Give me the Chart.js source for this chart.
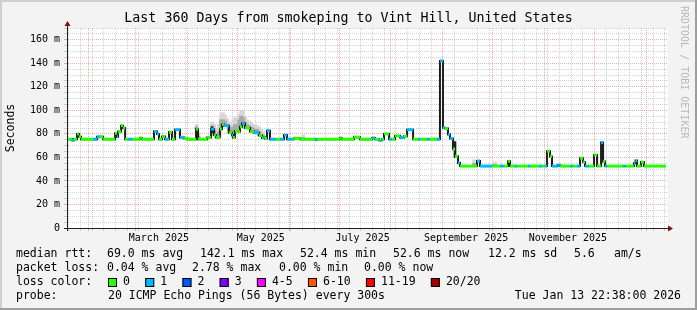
<!DOCTYPE html>
<html lang="en">
<head>
  <meta charset="UTF-8">
  <title>Last 360 Days from smokeping to Vint Hill</title>
  <script src="https://cdn.jsdelivr.net/npm/chart.js"></script>
  <style>
    html, body { margin: 0; padding: 0; background: #f3f3f3; }
    .chart-container { position: relative; width: 697px; height: 310px; }
  </style>
</head>
<body>
  <div class="chart-container"><canvas id="smokeChart"></canvas></div>

  <script>
    // median rtt steps: day offset from graph start, value in ms, lost pings (of 20)
    const stepDay = [0, 3.0, 4.2, 6.0, 7.2, 8.4, 15.6, 18.0, 19.8, 21.6, 28.8, 30.0, 30.6, 32.4, 33.6, 34.8, 36.5, 38.9,
      43.7, 44.9, 52.1, 53.9, 55.1, 56.9, 58.7, 60.5, 61.1, 62.9, 64.7, 67.7, 70.1, 71.9, 77.3, 78.5, 83.9, 86.3, 88.1,
      89.3, 91.1, 91.7, 92.8, 94.0, 97.0, 98.8, 99.4, 100.6, 102.4, 103.6, 104.8, 106.6, 109.6, 112.0, 115.0, 116.8,
      117.8, 118.6, 119.8, 121.6, 125.0, 128.0, 130.0, 131.8, 135.0, 136.0, 139.6, 148.6, 149.8, 163.5, 164.7, 171.9,
      175.5, 182.7, 184.5, 186.9, 188.7, 189.9, 192.9, 194.5, 196.5, 199.5, 201.9, 203.7, 207.3, 210.3, 211.5, 215.6,
      217.0, 221.6, 223.4, 225.2, 226.4, 228.2, 229.4, 231.2, 232.4, 234.2, 235.4, 245.6, 247.4, 254.6, 259.6, 261.8,
      264.2, 265.4, 268.4, 269.6, 276.2, 277.4, 282.7, 284.5, 286.3, 287.5, 289.3, 290.5, 294.0, 295.2, 301.3, 302.8,
      305.5, 307.3, 309.1, 310.3, 312.5, 315.7, 317.5, 319.9, 321.1, 322.3, 323.5, 333.0, 334.5, 339.6, 340.5, 341.4,
      343.8, 345.6, 358.8];
    const stepMs = [75.5, 74.5, 75.5, 80, 77.5, 75.5, 75.5, 77.5, 77.5, 75.5, 80.5, 77.5, 82, 87, 85, 75.5, 75.5, 75.5,
      76.5, 75.5, 82, 80, 75.5, 77.7, 75.5, 75.5, 81.5, 75.5, 83.5, 77, 76, 75.5, 84, 75.5, 77, 84, 79,
      77, 77.5, 84, 88, 87, 81, 79, 77, 82.5, 82, 86, 89, 85, 82, 81, 78.7, 76.6,
      77, 76, 82.6, 75.5, 75.5, 75.5, 79, 75.5, 75.5, 76.3, 75.5, 75, 75.5, 76.5, 75.5, 77.2,
      75.5, 76.5, 75.5, 74.5, 75.5, 80, 75.5, 75.5, 78.3, 77, 78, 83.5, 75.5, 75.5, 75.5, 75.5,
      75.5, 75.5, 142, 85.3, 84.5, 79.4, 76, 67.2, 61, 55.3, 52.6, 57, 52.6, 52.6, 52.6, 52.6,
      56.7, 52.6, 52.6, 52.6, 52.6, 52.6, 52.6, 52.6, 52.6, 65.3, 60.7, 52.6, 53.5, 52.6, 52.6, 52.6,
      52.6, 59.3, 56, 52.6, 52.6, 62, 52.6, 72.6, 56.6, 52.6, 52.6, 52.6, 52.6, 55, 57.3, 52.6,
      56, 52.6, 52.6];
    const stepLoss = [0, 1, 0, 0, 0, 0, 1, 1, 0, 0, 0, 1, 0, 0, 0, 0, 1, 0,
      0, 0, 1, 1, 0, 0, 1, 0, 0, 0, 1, 1, 0, 0, 0, 0, 0, 1, 0,
      0, 0, 0, 0, 1, 0, 1, 0, 0, 0, 0, 1, 0, 0, 1, 0, 0,
      1, 0, 1, 1, 0, 1, 1, 1, 0, 0, 0, 1, 0, 0, 0, 0,
      0, 1, 0, 1, 0, 0, 1, 0, 0, 1, 0, 1, 0, 1, 0, 1,
      0, 1, 1, 1, 0, 1, 1, 0, 0, 1, 0, 1, 1, 0, 1, 0,
      0, 0, 1, 0, 1, 0, 1, 0, 1, 0, 0, 1, 1, 0, 1, 0,
      1, 0, 0, 1, 0, 0, 0, 1, 0, 1, 0, 1, 0, 1, 0, 0,
      0, 0, 0];

    // smoke (spread of the 20 pings) above the median
    const smokeDay = [77.6, 78.8, 86.9, 88.1, 89.3, 91.1, 92.3, 93.5, 94.7, 95.9, 97.1, 98.3, 99.5, 100.7, 101.9,
      103.1, 104.3, 105.5, 106.7, 107.9, 109.1, 110.3, 111.5, 112.7, 113.9, 115.1, 116.3, 117.5, 141.5, 243.8, 255.5, 256.5];
    const smokeMid = [86, 78, 87, 83, 80, 82, 92, 92, 91, 88, 86, 84, 86, 88, 87,
      92, 95, 94, 90, 88, 87, 86, 85, 84, 84, 82, 80, 79, 77, 55, 54, 54];
    const smokeHi = [88, 81, 90, 88, 85, 88, 97, 98, 96, 93, 90, 89, 92, 94, 92,
      97, 100, 100, 95, 92, 91, 90, 88, 88, 87, 86, 84, 82, 79, 58, 56, 56];

    // dense smoke columns
    const darkDay = [86.9, 232.4];
    const darkLo = [81, 60];
    const darkHi = [86, 73.4];

    const monthLabels = ['March 2025', 'May 2025', 'July 2025', 'September 2025', 'November 2025'];
    const monthLabelDates = ['2025-03-15', '2025-05-15', '2025-07-15', '2025-09-15', '2025-11-15'];
    const yLabelMs = [0, 20, 40, 60, 80, 100, 120, 140, 160];

    const lossLevelLabels = ['0', '1', '2', '3', '4-5', '6-10', '11-19', '20/20'];
    const lossLevelMax = [0, 1, 2, 3, 5, 10, 19, 20];
    const lossLevelColors = ['#26ff00', '#00b8ff', '#0059ff', '#7e00ff', '#ff00ff', '#ff5500', '#ff0000', '#a10000'];

    const rttStatValues = ['69.0', '142.1', '52.4', '52.6', '12.2'];
    const rttStatNames = ['avg', 'max', 'min', 'now', 'sd'];
    const amsValue = '5.6';
    const lossStatValues = ['0.04', '2.78', '0.00', '0.00'];
    const lossStatNames = ['avg', 'max', 'min', 'now'];
    const probeText = '20 ICMP Echo Pings (56 Bytes) every 300s';
    const stampText = 'Tue Jan 13 22:38:00 2026';
    const titleText = 'Last 360 Days from smokeping to Vint Hill, United States';

    const MONO = '"DejaVu Sans Mono", monospace';
    const MINOR_GRID = 'rgba(140,140,140,0.38)';
    const MAJOR_GRID = 'rgba(224,80,80,0.45)';

    // time helpers (days since graph start)
    const t0 = new Date(2025, 0, 18, 22, 38);
    function dayOf(y, m, d) { return (new Date(y, m, d) - t0) / 86400000; }
    function dayOfStr(s) { const p = s.split('-').map(Number); return dayOf(p[0], p[1] - 1, p[2]); }

    const monthStartDays = [];
    for (let m = 1; m <= 12; m++) monthStartDays.push(dayOf(2025, m, 1));
    const mondayDays = [];
    for (let d = dayOf(2025, 0, 20); d < 360; d += 7) mondayDays.push(d);
    const labelDays = monthLabelDates.map(dayOfStr);

    const xTickKind = new Map();
    mondayDays.forEach(d => xTickKind.set(d.toFixed(3), 'week'));
    monthStartDays.forEach(d => xTickKind.set(d.toFixed(3), 'month'));
    labelDays.forEach(d => xTickKind.set(d.toFixed(3), 'label'));
    const xTickValues = [...xTickKind.keys()].map(Number).sort((a, b) => a - b);
    const kindOf = v => xTickKind.get(Number(v).toFixed(3));

    const yTickValues = [];
    for (let v = 0; v <= 170; v += 5) yTickValues.push(v);

    function lossColor(n) {
      const i = lossLevelMax.findIndex(m => n <= m);
      return lossLevelColors[i < 0 ? lossLevelColors.length - 1 : i];
    }
    function medianAt(d) {
      let v = stepMs[0];
      for (let i = 0; i < stepDay.length; i++) { if (stepDay[i] <= d) v = stepMs[i]; }
      return v;
    }

    // coloured horizontal pieces of the median, broken between steps
    const medianPieces = [];
    for (let i = 0; i < stepDay.length - 1; i++) {
      medianPieces.push({ x: stepDay[i], y: stepMs[i] });
      medianPieces.push({ x: stepDay[i + 1], y: stepMs[i] });
      medianPieces.push({ x: stepDay[i + 1], y: null });
    }

    const bgPlugin = {
      id: 'rrdBackground',
      beforeDraw(chart) {
        const c = chart.ctx, a = chart.chartArea;
        c.save();
        c.fillStyle = '#f3f3f3';
        c.fillRect(0, 0, chart.width, chart.height);
        c.fillStyle = '#cfcfcf';
        c.fillRect(0, 0, chart.width, 2);
        c.fillRect(0, 0, 2, chart.height);
        c.fillStyle = '#9e9e9e';
        c.fillRect(0, chart.height - 2, chart.width, 2);
        c.fillRect(chart.width - 2, 0, 2, chart.height);
        c.fillStyle = '#ffffff';
        c.fillRect(a.left, a.top, a.right - a.left, a.bottom - a.top);
        c.restore();
      }
    };

    const rrdPlugin = {
      id: 'rrdDecor',
      afterDraw(chart) {
        const c = chart.ctx, a = chart.chartArea;
        c.save();
        // axes with arrows
        c.strokeStyle = '#202020';
        c.lineWidth = 1;
        c.beginPath();
        c.moveTo(a.left - 3, a.bottom + 0.5); c.lineTo(a.right + 1, a.bottom + 0.5);
        c.moveTo(a.left + 0.5, a.bottom + 3); c.lineTo(a.left + 0.5, a.top - 2);
        c.stroke();
        c.fillStyle = '#7f1010';
        c.beginPath();
        c.moveTo(a.right + 5, a.bottom + 0.5); c.lineTo(a.right, a.bottom - 2.5); c.lineTo(a.right, a.bottom + 3.5);
        c.closePath(); c.fill();
        c.beginPath();
        c.moveTo(a.left + 0.5, a.top - 7); c.lineTo(a.left - 2.5, a.top - 2); c.lineTo(a.left + 3.5, a.top - 2);
        c.closePath(); c.fill();

        // watermark
        c.save();
        c.translate(chart.width - 13, 6);
        c.rotate(Math.PI / 2);
        c.font = '10px ' + MONO;
        c.fillStyle = 'rgba(0,0,0,0.25)';
        c.textBaseline = 'middle';
        c.fillText('RRDTOOL / TOBI OETIKER', 0, 0);
        c.restore();

        // legend block
        c.font = '11.5px ' + MONO;
        c.fillStyle = '#000';
        c.textBaseline = 'middle';
        c.textAlign = 'left';
        const rttX = [107, 200, 300, 393, 488];
        c.fillText('median rtt:', 16, 254);
        rttStatValues.forEach((v, i) => c.fillText(v + ' ms ' + rttStatNames[i], rttX[i], 254));
        c.fillText(amsValue, 574, 254);
        c.fillText('am/s', 614, 254);

        const lossX = [107, 192, 279, 364];
        c.fillText('packet loss:', 16, 268);
        lossStatValues.forEach((v, i) => c.fillText(v + ' % ' + lossStatNames[i], lossX[i], 268));

        c.fillText('loss color:', 16, 282);
        let x = 108;
        lossLevelLabels.forEach((lab, i) => {
          c.fillStyle = lossLevelColors[i];
          c.fillRect(x, 278, 9, 9);
          c.strokeStyle = '#000';
          c.strokeRect(x + 0.5, 278.5, 8, 8);
          c.fillStyle = '#000';
          c.fillText(lab, x + 15, 282);
          x += 15 + c.measureText(lab).width + 15.3;
        });

        c.fillText('probe:', 16, 296);
        c.fillText(probeText, 108, 296);
        c.textAlign = 'right';
        c.fillText(stampText, 681, 296);
        c.restore();
      }
    };

    const ctx = document.getElementById('smokeChart').getContext('2d');
    new Chart(ctx, {
      type: 'line',
      data: {
        datasets: [
          {
            label: 'median',
            data: medianPieces,
            borderWidth: 3,
            borderCapStyle: 'butt',
            pointRadius: 0,
            spanGaps: false,
            segment: { borderColor: c => lossColor(stepLoss[Math.floor(c.p0DataIndex / 3)]) },
            borderColor: lossLevelColors[0],
            order: 0
          },
          {
            label: 'steps',
            data: stepDay.map((d, i) => ({ x: d, y: stepMs[i] })),
            stepped: true,
            borderWidth: 2,
            borderColor: '#1e1e1e',
            pointRadius: 0,
            order: 1
          },
          {
            type: 'bar',
            label: 'dense',
            data: darkDay.map((d, i) => ({ x: d, y: [darkLo[i], darkHi[i]] })),
            backgroundColor: '#1e1e1e',
            barThickness: 2,
            grouped: false,
            order: 2
          },
          {
            type: 'bar',
            label: 'smoke mid',
            data: smokeDay.map((d, i) => ({ x: d, y: [medianAt(d), Math.max(medianAt(d), smokeMid[i])] })),
            backgroundColor: '#a8a8a8',
            barThickness: 3,
            grouped: false,
            order: 3
          },
          {
            type: 'bar',
            label: 'smoke',
            data: smokeDay.map((d, i) => ({ x: d, y: [medianAt(d), Math.max(medianAt(d), smokeHi[i])] })),
            backgroundColor: '#d6d6d6',
            barThickness: 3,
            grouped: false,
            order: 4
          }
        ]
      },
      options: {
        responsive: true,
        maintainAspectRatio: false,
        animation: false,
        events: [],
        layout: { padding: { top: 0, right: 0, bottom: 62, left: 0 } },
        plugins: {
          legend: { display: false },
          tooltip: { enabled: false },
          title: {
            display: true,
            text: titleText,
            color: '#000',
            font: { family: MONO, size: 13.3, weight: 'normal' },
            padding: { top: 11, bottom: 1.04 }
          }
        },
        scales: {
          x: {
            type: 'linear',
            min: 0,
            max: 360,
            offset: false,
            afterBuildTicks: s => { s.ticks = xTickValues.map(v => ({ value: v })); },
            afterFit: s => { s.height = 20; },
            grid: {
              offset: false,
              lineWidth: 1,
              tickLength: 3,
              color: c => {
                const k = kindOf(c.tick.value);
                return k === 'month' ? MAJOR_GRID : k === 'week' ? MINOR_GRID : 'rgba(0,0,0,0)';
              },
              tickColor: c => {
                const k = kindOf(c.tick.value);
                return k === 'month' ? MAJOR_GRID : k === 'week' ? MINOR_GRID : 'rgba(0,0,0,0)';
              }
            },
            border: { display: true, color: '#202020', dash: [1, 1] },
            ticks: {
              autoSkip: false,
              maxRotation: 0,
              padding: 1,
              color: '#000',
              font: { family: MONO, size: 10 },
              callback: v => (kindOf(v) === 'label' ? monthLabels[labelDays.findIndex(d => Math.abs(d - v) < 0.01)] : '')
            }
          },
          y: {
            type: 'linear',
            min: 0,
            max: 170,
            afterBuildTicks: s => { s.ticks = yTickValues.map(v => ({ value: v })); },
            afterFit: s => { s.width = 67; },
            grid: {
              lineWidth: 1,
              tickLength: 3,
              color: c => (yLabelMs.includes(c.tick.value) ? MAJOR_GRID : MINOR_GRID),
              tickColor: c => (yLabelMs.includes(c.tick.value) ? MAJOR_GRID : MINOR_GRID)
            },
            border: { display: true, color: '#202020', dash: [1, 1] },
            ticks: {
              autoSkip: false,
              padding: 4,
              color: '#000',
              font: { family: MONO, size: 10 },
              callback: v => (yLabelMs.includes(v) ? (v === 0 ? '0' : v + ' m') : '')
            },
            title: {
              display: true,
              text: 'Seconds',
              color: '#000',
              font: { family: MONO, size: 11.5 },
              padding: { top: 4, bottom: 0 }
            }
          },
          yR: {
            position: 'right',
            display: true,
            grid: { display: false, drawOnChartArea: false },
            border: { display: false },
            ticks: { display: false },
            afterFit: s => { s.width = 29; }
          }
        }
      },
      plugins: [bgPlugin, rrdPlugin]
    });
  </script>
</body>
</html>
